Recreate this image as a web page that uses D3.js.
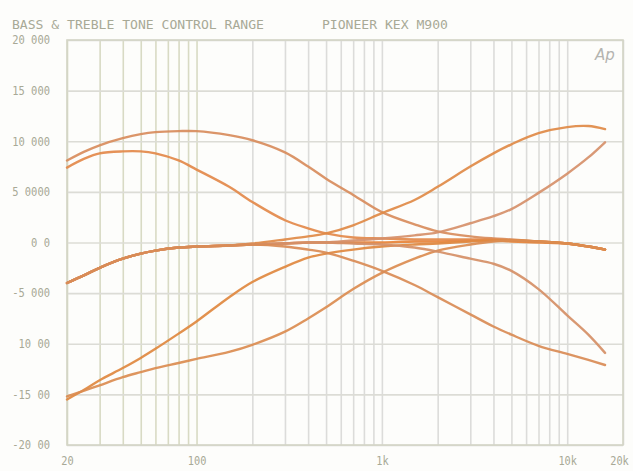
<!DOCTYPE html>
<html><head><meta charset="utf-8">
<script src="https://cdn.jsdelivr.net/npm/d3@7/dist/d3.min.js"></script>
<style>body{margin:0;background:#fdfdfb}svg{display:block}</style>
</head><body><svg id="c" width="633" height="471"></svg>
<script>
// ---- data ----
const freqs = [20, 25, 30, 40, 50, 60, 80, 100, 150, 200, 300, 400, 500, 700, 1000, 1500, 2000, 3000, 4000, 5000, 7000, 10000, 13000, 16000];
const bassBoostWide   = [8.1, 9.0, 9.6, 10.3, 10.7, 10.9, 11.0, 11.0, 10.6, 10.1, 8.9, 7.5, 6.3, 4.7, 3.0, 1.8, 1.1, 0.6, 0.4, 0.3, 0.1, -0.1, -0.4, -0.7];
const bassBoostNarrow = [7.4, 8.3, 8.8, 9.0, 9.0, 8.8, 8.1, 7.2, 5.5, 4.0, 2.2, 1.4, 0.9, 0.5, 0.4, 0.3, 0.3, 0.3, 0.3, 0.2, 0.1, -0.1, -0.4, -0.7];
const bassCutNarrow   = [-15.5, -14.5, -13.6, -12.4, -11.4, -10.5, -9.0, -7.8, -5.4, -3.9, -2.4, -1.5, -1.1, -0.7, -0.4, -0.2, -0.1, 0.1, 0.2, 0.2, 0.1, -0.1, -0.4, -0.7];
const bassCutWide     = [-15.2, -14.6, -14.1, -13.3, -12.8, -12.4, -11.9, -11.5, -10.8, -10.1, -8.8, -7.5, -6.4, -4.6, -3.0, -1.6, -0.8, -0.2, 0.1, 0.2, 0.1, -0.1, -0.4, -0.7];
const trebleBoostWide   = [-4.0, -3.2, -2.5, -1.6, -1.1, -0.8, -0.5, -0.4, -0.3, -0.1, 0.3, 0.6, 0.9, 1.7, 2.9, 4.2, 5.5, 7.5, 8.8, 9.7, 10.8, 11.4, 11.5, 11.2];
const trebleBoostNarrow = [-4.0, -3.2, -2.5, -1.6, -1.1, -0.8, -0.5, -0.4, -0.3, -0.2, -0.1, 0.0, 0.0, 0.2, 0.4, 0.7, 1.0, 1.9, 2.6, 3.3, 4.9, 6.8, 8.4, 9.9];
const trebleCutNarrow   = [-4.0, -3.2, -2.5, -1.6, -1.1, -0.8, -0.5, -0.4, -0.3, -0.2, -0.1, 0.0, 0.0, -0.1, -0.2, -0.5, -0.9, -1.6, -2.1, -2.8, -4.6, -7.2, -9.1, -10.9];
const trebleCutWide     = [-4.0, -3.2, -2.5, -1.6, -1.1, -0.8, -0.5, -0.4, -0.3, -0.2, -0.4, -0.7, -1.0, -1.8, -2.8, -4.2, -5.4, -7.1, -8.3, -9.1, -10.2, -11.0, -11.6, -12.1];
const flatResponse      = [-4.0, -3.2, -2.5, -1.6, -1.1, -0.8, -0.5, -0.4, -0.3, -0.2, -0.1, 0.0, 0.0, 0.0, 0.0, 0.1, 0.1, 0.2, 0.2, 0.1, 0.0, -0.1, -0.4, -0.7];

const seriesValues = [flatResponse, bassBoostWide, bassBoostNarrow, bassCutNarrow, bassCutWide, trebleBoostWide, trebleBoostNarrow, trebleCutNarrow, trebleCutWide];
const seriesColors = ["#e8843a", "#d88c5c", "#e3894a", "#e0883f", "#db8c50", "#df8a46", "#d6906a", "#d58f66", "#d98b55"];

const yTickValues = [20, 15, 10, 5, 0, -5, -10, -15, -20];
const yTickLabels = ["20 000", "15 000", "10 000", "5 0000", "0 0", "-5 000", "10 00", "-15 00", "-20 00"];
const xTickValues = [20, 100, 1000, 10000, 20000];
const xTickLabels = ["20", "100", "1k", "10k", "20k"];
const gridFreqs = [20, 30, 40, 50, 60, 70, 80, 90, 100, 200, 300, 400, 500, 600, 700, 800, 900, 1000, 2000, 3000, 4000, 5000, 6000, 7000, 8000, 9000, 10000, 20000];
const titleLeft = "BASS & TREBLE TONE CONTROL RANGE";
const titleRight = "PIONEER KEX M900";
const logoText = "Ap";

// ---- drawing ----
const svg = d3.select("#c");
const x = d3.scaleLog().domain([20, 20000]).range([67, 623]);
const y = d3.scaleLinear().domain([-20, 20]).range([445, 40]);
const textCol = "#a8a996";
const mono = "'DejaVu Sans Mono', 'Liberation Mono', monospace";

svg.append("rect").attr("width", 633).attr("height", 471).attr("fill", "#fdfdfb");

// vertical grid
const gV = svg.append("g").attr("transform", `translate(0,${y(-20)})`)
  .call(d3.axisBottom(x).tickValues(gridFreqs).tickSize(-(y(-20) - y(20))).tickFormat(""));
gV.select(".domain").remove();
gV.selectAll(".tick line")
  .attr("stroke", d => d <= 100 ? "#d8dac4" : "#dcdcda")
  .attr("stroke-width", 1.6);

// horizontal grid
const gH = svg.append("g").attr("transform", `translate(${x(20)},0)`)
  .call(d3.axisLeft(y).tickValues(yTickValues).tickSize(-(x(20000) - x(20))).tickFormat(""));
gH.select(".domain").remove();
gH.selectAll(".tick line").attr("stroke", "#dcdcd6").attr("stroke-width", 1.6);

// frame
svg.append("rect").attr("x", x(20)).attr("y", y(20)).attr("width", x(20000) - x(20)).attr("height", y(-20) - y(20))
  .attr("fill", "none").attr("stroke", "#d4d5c6").attr("stroke-width", 1.6);

// y labels
const gY = svg.append("g").attr("transform", "translate(50,0)")
  .call(d3.axisLeft(y).tickValues(yTickValues).tickSize(0).tickPadding(0)
    .tickFormat((d, i) => yTickLabels[i]));
gY.select(".domain").remove();
gY.selectAll("text").attr("fill", textCol).attr("font-family", mono).attr("font-size", 12)
  .attr("textLength", function() { return this.textContent.length * 6.3; })
  .attr("lengthAdjust", "spacingAndGlyphs");

// x labels
const gX = svg.append("g").attr("transform", `translate(0,456)`)
  .call(d3.axisBottom(x).tickValues(xTickValues).tickSize(0).tickPadding(0)
    .tickFormat((d, i) => xTickLabels[i]));
gX.select(".domain").remove();
gX.selectAll("text").attr("fill", textCol).attr("font-family", mono).attr("font-size", 12)
  .attr("textLength", function() { return this.textContent.length * 6.2; })
  .attr("lengthAdjust", "spacingAndGlyphs")
  .attr("dx", d => d === 20000 ? -4 : 0);

// titles
svg.append("text").attr("x", 12).attr("y", 29).text(titleLeft)
  .attr("fill", textCol).attr("font-family", mono).attr("font-size", 12.5)
  .attr("textLength", 252).attr("lengthAdjust", "spacingAndGlyphs");
svg.append("text").attr("x", 322).attr("y", 29).text(titleRight)
  .attr("fill", textCol).attr("font-family", mono).attr("font-size", 12.5)
  .attr("textLength", 126).attr("lengthAdjust", "spacingAndGlyphs");
svg.append("text").attr("x", 595).attr("y", 60).text(logoText)
  .attr("fill", "#b4b4b0").attr("font-family", "'DejaVu Sans', sans-serif").attr("font-style", "italic")
  .attr("font-size", 15);

// curves
const line = d3.line().x((d, i) => x(freqs[i])).y(d => y(d)).curve(d3.curveCatmullRom.alpha(0.5));
svg.append("g").selectAll("path").data(seriesValues).join("path")
  .attr("d", d => line(d))
  .attr("fill", "none")
  .attr("stroke", (d, i) => seriesColors[i])
  .attr("stroke-width", 2.4)
  .attr("stroke-linecap", "round")
  .attr("stroke-linejoin", "round")
  .attr("opacity", 0.92);
</script></body></html>
